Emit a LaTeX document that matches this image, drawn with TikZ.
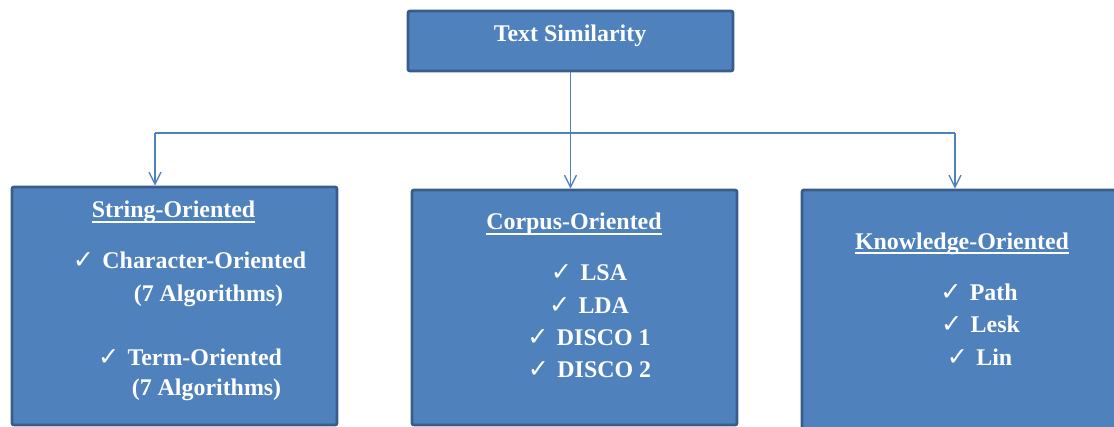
\documentclass[tikz,border=0pt]{standalone}
\usepackage{fontspec}
\setmainfont{Liberation Serif}
\newfontfamily\checkfont{DejaVu Sans}
\usetikzlibrary{arrows.meta}
\definecolor{boxfill}{HTML}{4F81BD}
\definecolor{boxline}{HTML}{385D8A}
\newsavebox{\ulbox}
\newcommand{\uln}[1]{\sbox{\ulbox}{#1}\rlap{\rule[-3.4pt]{\wd\ulbox}{1.2pt}}\usebox{\ulbox}}
\newcommand{\tick}{\makebox[21pt][l]{\checkfont\fontsize{18}{18}\selectfont ✓}}
\tikzset{
	catbox/.style={draw=boxline, fill=boxfill, line width=2pt, rounded corners=1.5pt, inner sep=0pt},
	lbl/.style={anchor=base, inner sep=0pt, text=white, font=\fontsize{17}{20}\selectfont\bfseries},
	link/.style={draw=boxfill, line width=0.9pt},
	arr/.style={link, -{Straight Barb[length=8.5pt, width=8.5pt]}}
}

\begin{document}
\begin{tikzpicture}[x=0.025cm, y=-0.025cm]
			\useasboundingbox (0, 0) rectangle (1114, 427);
			\clip (0, 0) rectangle (1114, 427);
			% boxes
			\node[catbox, minimum width=8.125cm, minimum height=1.5cm] (sim) at (570.5, 41) {};
			\node[catbox, minimum width=8.125cm, minimum height=5.95cm] (string) at (174.5, 306) {};
			\node[catbox, minimum width=8.125cm, minimum height=5.875cm] (corpus) at (574.5, 307.5) {};
			\node[catbox, minimum width=8.125cm, minimum height=6.25cm] (knowledge) at (964.5, 315) {};
			% connectors
			\coordinate (jl) at (155, 133);
			\coordinate (jr) at (955, 133);
			\draw[arr] (sim.south) -- (sim.south |- corpus.north);
			\draw[link] (jl) -- (jr);
			\draw[arr] (jl) -- (jl |- string.north);
			\draw[arr] (jr) -- (jr |- knowledge.north);
			% top label
			\node[lbl] (simtext) at (570, 42) {Text Similarity};
			% string oriented
			\node[lbl] (stitle) at (173.5, 218) {\uln{String-Oriented}};
			\node[lbl] (s1) at (189.5, 268) {\tick Character-Oriented};
			\node[lbl] (s1b) at (208.5, 301) {(7 Algorithms)};
			\node[lbl] (s2) at (190, 365) {\tick Term-Oriented};
			\node[lbl] (s2b) at (206.5, 395) {(7 Algorithms)};
			% corpus oriented
			\node[lbl] (ctitle) at (574, 230) {\uln{Corpus-Oriented}};
			\node[lbl] (c1) at (589, 280) {\tick LSA};
			\node[lbl] (c2) at (589, 313) {\tick LDA};
			\node[lbl] (c3) at (589, 345) {\tick DISCO 1};
			\node[lbl] (c4) at (589.5, 377) {\tick DISCO 2};
			% knowledge oriented
			\node[lbl] (ktitle) at (962, 249) {\uln{Knowledge-Oriented}};
			\node[lbl] (k1) at (979, 300) {\tick Path};
			\node[lbl] (k2) at (980.5, 332) {\tick Lesk};
			\node[lbl] (k3) at (979.5, 365) {\tick Lin};
		\end{tikzpicture}
\end{document}
